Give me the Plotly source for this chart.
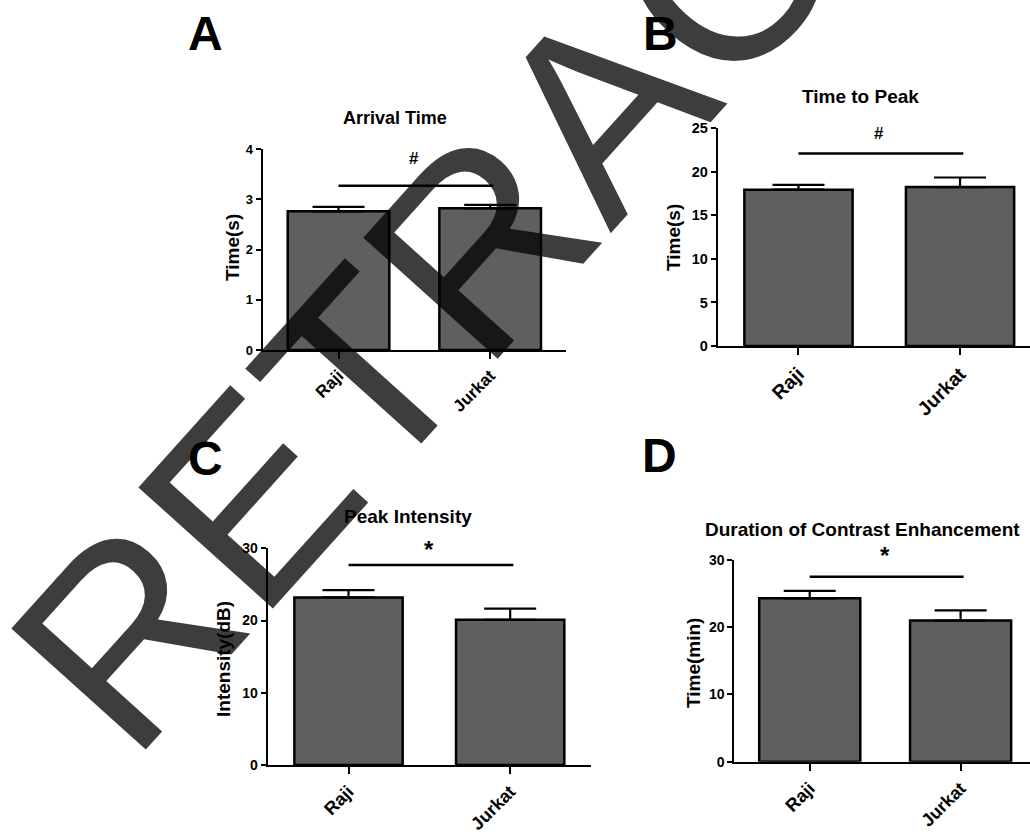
import plotly.graph_objects as go

W, H = 1030, 832

# ---------------- data ----------------
categories = ["Raji", "Jurkat"]

arrival_mean = [2.76, 2.82]
arrival_err = [0.09, 0.07]

ttp_mean = [17.95, 18.25]
ttp_err = [0.55, 1.1]

peak_mean = [23.2, 20.1]
peak_err = [1.0, 1.55]

dur_mean = [24.3, 21.0]
dur_err = [1.1, 1.5]

panel_titles = ["Arrival Time", "Time to Peak", "Peak Intensity", "Duration of Contrast Enhancement"]
axis_titles = ["Time(s)", "Time(s)", "Intensity(dB)", "Time(min)"]
panel_letters = ["A", "B", "C", "D"]
sig_marks = ["#", "#", "*", "*"]
sig_levels = [3.27, 22.1, 27.7, 27.5]
mark_levels = [3.82, 24.4, 29.8, 30.7]
y_ranges = [[0, 4], [0, 25], [0, 30], [0, 30]]
y_dticks = [1, 5, 10, 10]

means = [arrival_mean, ttp_mean, peak_mean, dur_mean]
errs = [arrival_err, ttp_err, peak_err, dur_err]

# ---------------- layout (pixel geometry) ----------------
def px(x):
    return x / W

def py(y):
    return 1 - y / H

# x-domain px, x-range right end, y-domain px (bottom, top), tick font, category font
geo = [
    dict(xd=(262.7, 566.0), xr=1.5, yd=(350.0, 149.0), tf=13, cf=17),
    dict(xd=(717.7, 1030.0), xr=1.433, yd=(346.0, 128.3), tf=14.5, cf=19.5),
    dict(xd=(267.7, 591.0), xr=1.5, yd=(765.0, 548.3), tf=14, cf=18),
    dict(xd=(734.3, 1030.0), xr=1.46, yd=(761.7, 560.0), tf=14, cf=18),
]
title_pos = [(395, 118), (860, 96), (408, 516), (862, 529)]
ytitle_pos = [(232, 248), (673, 238), (223, 659), (693, 663)]
letter_pos = [(205, 33), (660, 34), (205, 458), (659, 455)]

FONT = "Liberation Sans, Arial, sans-serif"

fig = go.Figure()
layout = dict(
    width=W, height=H, margin=dict(l=0, r=0, t=0, b=0, pad=0, autoexpand=False),
    paper_bgcolor="white", plot_bgcolor="white", showlegend=False,
    font=dict(family=FONT, color="black"),
)
annotations = []
shapes = []

for i in range(4):
    g = geo[i]
    s = "" if i == 0 else str(i + 1)
    xa, ya = "x" + s, "y" + s
    fig.add_trace(go.Bar(
        x=[0, 1], y=means[i], width=0.67,
        marker=dict(color="#5f5f5f", line=dict(color="black", width=2.5)),
        error_y=dict(type="data", array=errs[i], arrayminus=[0, 0], symmetric=False,
                     thickness=2.2, width=26, color="black"),
        xaxis=xa, yaxis=ya, hoverinfo="skip",
    ))
    layout["xaxis" + s] = dict(
        domain=[px(g["xd"][0]), px(g["xd"][1])], range=[-0.5, g["xr"]],
        anchor=ya, tickvals=[0, 1], ticktext=categories, tickangle=-45,
        showline=True, linecolor="black", linewidth=2, ticks="outside", ticklen=7,
        tickwidth=2, tickcolor="black", showgrid=False, zeroline=False, automargin=False,
        tickfont=dict(size=g["cf"], family=FONT, weight="bold", color="black"),
        fixedrange=True,
    )
    layout["yaxis" + s] = dict(
        domain=[py(g["yd"][0]), py(g["yd"][1])], range=y_ranges[i], dtick=y_dticks[i],
        tick0=0, anchor=xa, showline=True, linecolor="black", linewidth=2,
        ticks="outside", ticklen=5, tickwidth=2, tickcolor="black",
        showgrid=False, zeroline=False, automargin=False,
        tickfont=dict(size=g["tf"], family=FONT, weight="bold", color="black"),
        fixedrange=True,
    )
    # significance line and mark
    shapes.append(dict(type="line", xref=xa, yref=ya, x0=0, x1=1.02,
                       y0=sig_levels[i], y1=sig_levels[i],
                       line=dict(color="black", width=2.5)))
    annotations.append(dict(xref=xa, yref=ya + " domain", x=0.5,
                            y=mark_levels[i] / y_ranges[i][1], text=sig_marks[i],
                            showarrow=False, xanchor="center", yanchor="middle",
                            font=dict(size=17 if sig_marks[i] == "#" else 24,
                                      family=FONT, weight="bold", color="black")))
    # panel title
    annotations.append(dict(xref="paper", yref="paper", x=px(title_pos[i][0]), y=py(title_pos[i][1]),
                            text=panel_titles[i], showarrow=False, xanchor="center", yanchor="middle",
                            font=dict(size=19 if i else 18, family=FONT, weight="bold", color="black")))
    # y-axis title
    annotations.append(dict(xref="paper", yref="paper", x=px(ytitle_pos[i][0]), y=py(ytitle_pos[i][1]),
                            text=axis_titles[i], showarrow=False, textangle=-90,
                            xanchor="center", yanchor="middle",
                            font=dict(size=19, family=FONT, weight="bold", color="black")))
    # panel letter
    annotations.append(dict(xref="paper", yref="paper", x=px(letter_pos[i][0]), y=py(letter_pos[i][1]),
                            text=panel_letters[i], showarrow=False, xanchor="center", yanchor="middle",
                            font=dict(size=48, family=FONT, weight="bold", color="black")))

# watermark
annotations.append(dict(xref="paper", yref="paper", x=px(601), y=py(108), text="RETRACTED",
                        showarrow=False, textangle=-48, xanchor="center", yanchor="middle",
                        font=dict(size=263, family=FONT, color="rgba(0,0,0,0.76)")))

layout["annotations"] = annotations
layout["shapes"] = shapes
fig.update_layout(**layout)

fig.write_html("out.html", config={"displayModeBar": False},
               post_script="document.body.style.margin='0';document.body.style.overflow='hidden';")
